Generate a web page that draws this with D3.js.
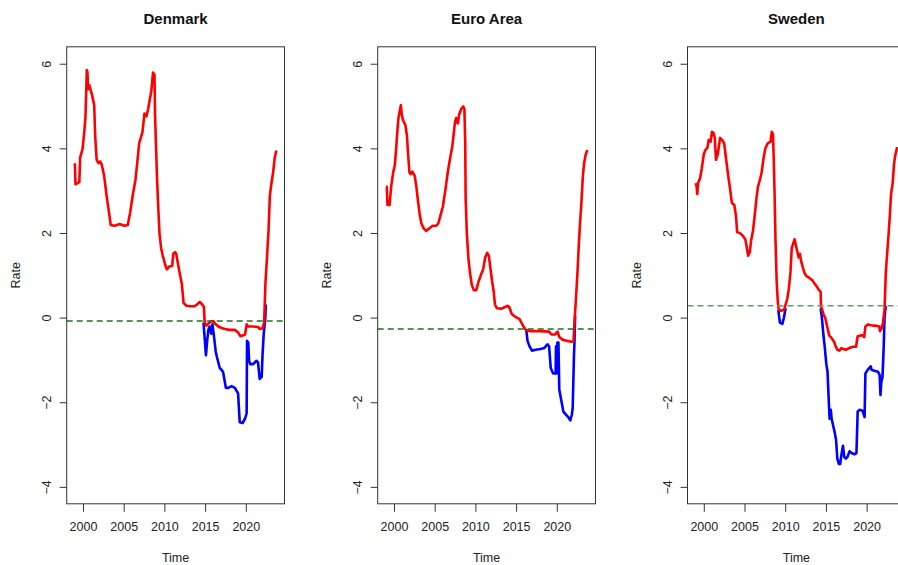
<!DOCTYPE html>
<html><head><meta charset="utf-8">
<script src="https://cdn.jsdelivr.net/npm/d3@7"></script>
<style>
html,body{margin:0;padding:0;background:#fff;}
svg{display:block;font-family:"Liberation Sans",Arial,Helvetica,sans-serif;}
</style></head>
<body><svg id="chart" width="898" height="565"></svg>
<script>
// ---------- data ----------
const panelTitles = ["Denmark", "Euro Area", "Sweden"];
const xTicks = [2000, 2005, 2010, 2015, 2020];
const yTicks = [-4, -2, 0, 2, 4, 6];
const thresholds = [-0.08, -0.27, 0.28];

const dkRate = [[1999.0,3.65],[1999.08,3.15],[1999.55,3.2],[1999.65,3.78],[1999.95,3.99],[2000.15,4.37],[2000.3,4.72],[2000.42,5.5],[2000.47,5.85],[2000.55,5.8],[2000.62,5.4],[2000.78,5.49],[2001.1,5.27],[2001.38,5.02],[2001.5,4.29],[2001.68,3.73],[2001.9,3.65],[2002.1,3.69],[2002.3,3.62],[2002.6,3.35],[2002.9,2.88],[2003.25,2.41],[2003.4,2.19],[2003.9,2.17],[2004.5,2.21],[2005.1,2.17],[2005.5,2.19],[2005.8,2.49],[2006.1,2.88],[2006.45,3.26],[2006.7,3.73],[2006.9,4.12],[2007.3,4.38],[2007.55,4.82],[2007.8,4.76],[2008.0,4.93],[2008.2,5.15],[2008.4,5.36],[2008.6,5.79],[2008.78,5.74],[2008.85,4.8],[2009.0,3.86],[2009.1,3.26],[2009.25,2.58],[2009.4,1.98],[2009.6,1.64],[2009.8,1.46],[2010.1,1.25],[2010.3,1.14],[2010.6,1.21],[2010.95,1.22],[2011.1,1.51],[2011.3,1.55],[2011.45,1.51],[2011.65,1.29],[2011.85,1.08],[2012.15,0.78],[2012.35,0.35],[2012.7,0.28],[2013.3,0.27],[2013.7,0.27],[2014.0,0.31],[2014.35,0.37],[2014.65,0.31],[2014.85,0.25],[2014.95,-0.12],[2015.15,-0.19],[2015.35,-0.15],[2015.65,-0.10],[2016.0,-0.08],[2016.3,-0.16],[2016.8,-0.23],[2017.4,-0.27],[2018.0,-0.29],[2018.65,-0.29],[2019.05,-0.35],[2019.35,-0.44],[2019.9,-0.40],[2020.1,-0.16],[2020.3,-0.21],[2020.9,-0.21],[2021.5,-0.22],[2021.7,-0.27],[2022.05,-0.25],[2022.25,-0.12],[2022.4,0.78],[2022.6,1.42],[2022.8,2.11],[2022.95,2.88],[2023.15,3.18],[2023.35,3.43],[2023.55,3.78],[2023.75,3.95]];
const dkShadow = [[2014.8,-0.12],[2015.0,-0.63],[2015.1,-0.89],[2015.25,-0.55],[2015.4,-0.29],[2015.55,-0.21],[2015.75,-0.38],[2015.9,-0.16],[2016.1,-0.46],[2016.3,-0.80],[2016.45,-0.93],[2016.8,-1.19],[2017.2,-1.28],[2017.55,-1.66],[2017.85,-1.66],[2018.25,-1.62],[2018.65,-1.66],[2019.05,-1.79],[2019.25,-2.47],[2019.6,-2.49],[2019.9,-2.39],[2020.1,-2.26],[2020.15,-0.55],[2020.3,-0.59],[2020.4,-1.02],[2020.55,-1.10],[2020.9,-1.10],[2021.3,-1.02],[2021.5,-1.06],[2021.7,-1.45],[2021.95,-1.40],[2022.05,-0.89],[2022.2,-0.38],[2022.4,0.01],[2022.45,0.31]];

const eaRate = [[1999.0,3.09],[1999.12,3.09],[1999.2,2.66],[1999.45,2.66],[1999.65,3.09],[1999.9,3.43],[2000.1,3.60],[2000.25,3.95],[2000.4,4.37],[2000.55,4.72],[2000.75,4.93],[2000.85,5.02],[2000.95,4.80],[2001.1,4.67],[2001.4,4.55],[2001.6,4.29],[2001.7,3.95],[2001.9,3.43],[2002.05,3.39],[2002.25,3.45],[2002.55,3.35],[2002.75,3.09],[2002.95,2.75],[2003.15,2.45],[2003.35,2.23],[2003.65,2.11],[2003.95,2.05],[2004.35,2.11],[2004.75,2.17],[2005.2,2.17],[2005.45,2.23],[2005.7,2.41],[2006.0,2.62],[2006.3,3.0],[2006.6,3.43],[2006.9,3.78],[2007.15,4.03],[2007.35,4.37],[2007.5,4.63],[2007.65,4.72],[2007.85,4.59],[2008.0,4.80],[2008.25,4.93],[2008.5,4.99],[2008.65,4.93],[2008.75,4.12],[2008.8,2.83],[2008.95,1.98],[2009.15,1.38],[2009.35,1.04],[2009.55,0.78],[2009.8,0.65],[2010.1,0.65],[2010.4,0.86],[2010.7,1.02],[2010.95,1.14],[2011.2,1.42],[2011.45,1.53],[2011.65,1.46],[2011.85,1.16],[2012.05,0.86],[2012.25,0.61],[2012.4,0.31],[2012.65,0.22],[2013.15,0.21],[2013.65,0.25],[2013.95,0.28],[2014.15,0.25],[2014.45,0.09],[2014.8,0.03],[2015.2,-0.01],[2015.4,-0.03],[2015.65,-0.12],[2015.9,-0.21],[2016.2,-0.29],[2016.8,-0.32],[2018.0,-0.32],[2019.05,-0.33],[2019.35,-0.40],[2019.75,-0.40],[2020.1,-0.33],[2020.3,-0.46],[2020.7,-0.52],[2021.3,-0.55],[2021.8,-0.57],[2022.05,-0.55],[2022.2,0.01],[2022.35,0.44],[2022.55,1.12],[2022.7,1.72],[2022.85,2.23],[2023.0,2.66],[2023.2,3.35],[2023.35,3.65],[2023.55,3.86],[2023.75,3.96]];
const eaShadow = [[2016.25,-0.29],[2016.4,-0.55],[2016.65,-0.68],[2016.95,-0.78],[2017.4,-0.76],[2018.0,-0.74],[2018.45,-0.72],[2018.85,-0.63],[2019.05,-0.68],[2019.25,-1.19],[2019.55,-1.32],[2019.85,-1.32],[2019.9,-0.68],[2019.97,-1.32],[2020.07,-0.59],[2020.2,-0.59],[2020.3,-1.70],[2020.55,-1.96],[2020.8,-2.22],[2021.15,-2.30],[2021.4,-2.35],[2021.65,-2.43],[2021.85,-2.29],[2021.95,-2.13],[2022.1,-0.93],[2022.18,-0.51],[2022.25,0.05]];

const seRate = [[1999.0,3.18],[1999.12,3.10],[1999.2,2.92],[1999.3,3.18],[1999.55,3.30],[1999.75,3.52],[2000.0,3.86],[2000.2,3.96],[2000.45,4.02],[2000.6,4.20],[2000.85,4.16],[2001.0,4.39],[2001.2,4.36],[2001.35,4.25],[2001.5,3.73],[2001.7,3.86],[2001.85,4.03],[2002.0,4.25],[2002.25,4.20],[2002.5,4.12],[2002.75,3.73],[2003.0,3.35],[2003.25,3.01],[2003.45,2.71],[2003.75,2.66],[2003.95,2.41],[2004.1,2.02],[2004.5,1.99],[2004.8,1.93],[2005.1,1.85],[2005.3,1.64],[2005.45,1.46],[2005.65,1.55],[2005.8,1.81],[2006.05,2.06],[2006.25,2.41],[2006.45,2.79],[2006.65,3.09],[2006.9,3.26],[2007.1,3.43],[2007.35,3.78],[2007.55,3.99],[2007.85,4.12],[2008.2,4.16],[2008.35,4.39],[2008.5,4.33],[2008.6,3.69],[2008.7,2.88],[2008.8,1.89],[2008.95,0.86],[2009.1,0.35],[2009.2,0.20],[2009.45,0.16],[2009.85,0.18],[2010.05,0.31],[2010.25,0.44],[2010.45,0.69],[2010.65,1.08],[2010.8,1.64],[2011.0,1.76],[2011.15,1.85],[2011.3,1.72],[2011.5,1.55],[2011.65,1.42],[2011.8,1.51],[2011.95,1.34],[2012.2,1.16],[2012.4,1.04],[2012.65,0.97],[2012.9,0.95],[2013.35,0.88],[2013.55,0.82],[2013.85,0.74],[2014.15,0.65],[2014.35,0.61],[2014.4,0.27],[2014.55,0.18],[2014.75,0.05],[2014.9,0.01],[2015.2,-0.25],[2015.4,-0.42],[2015.6,-0.46],[2015.8,-0.51],[2016.0,-0.57],[2016.2,-0.68],[2016.4,-0.76],[2016.65,-0.78],[2016.9,-0.72],[2017.15,-0.74],[2017.45,-0.76],[2017.85,-0.72],[2018.3,-0.69],[2018.7,-0.69],[2018.9,-0.44],[2019.25,-0.42],[2019.5,-0.42],[2019.7,-0.46],[2019.85,-0.21],[2020.15,-0.16],[2020.55,-0.18],[2020.95,-0.19],[2021.35,-0.20],[2021.55,-0.21],[2021.65,-0.32],[2021.85,-0.25],[2022.0,-0.12],[2022.2,0.18],[2022.35,1.04],[2022.5,1.46],[2022.7,1.98],[2022.85,2.41],[2023.0,2.92],[2023.2,3.18],[2023.35,3.60],[2023.5,3.82],[2023.75,4.03]];
const seShadowA = [[2009.15,0.18],[2009.35,-0.12],[2009.65,-0.15],[2009.85,0.01],[2010.05,0.22]];
const seShadowB = [[2014.35,0.22],[2014.5,0.01],[2014.7,-0.42],[2014.85,-0.68],[2015.05,-1.10],[2015.2,-1.28],[2015.3,-1.75],[2015.45,-2.39],[2015.6,-2.18],[2015.7,-2.39],[2015.9,-2.56],[2016.1,-2.73],[2016.25,-2.90],[2016.4,-3.33],[2016.6,-3.46],[2016.75,-3.46],[2016.9,-3.25],[2017.1,-3.03],[2017.25,-3.29],[2017.45,-3.33],[2017.65,-3.29],[2017.9,-3.16],[2018.15,-3.20],[2018.5,-3.23],[2018.75,-3.20],[2018.9,-2.22],[2019.15,-2.18],[2019.5,-2.20],[2019.75,-2.35],[2019.85,-1.32],[2020.15,-1.23],[2020.5,-1.15],[2020.6,-1.23],[2021.05,-1.26],[2021.4,-1.28],[2021.6,-1.36],[2021.7,-1.83],[2021.8,-1.53],[2021.95,-1.40],[2022.1,-0.68],[2022.2,0.01],[2022.35,0.27]];

const rateSeries = [dkRate, eaRate, seRate];
const shadowSeries = [[dkShadow], [eaShadow], [seShadowA, seShadowB]];
const dashColors = ["#1f6f1f", "#1f6f1f", "#5f9f5f"];

// ---------- layout ----------
const svg = d3.select("#chart");
const panelLeft = [66.7, 377.7, 687.5];
const plotW = 217.8, plotTop = 46.8, plotBottom = 503.8;
const FONT = '"Liberation Sans",Arial,Helvetica,sans-serif';

panelTitles.forEach((title, i) => {
  const L = panelLeft[i];
  const x = d3.scaleLinear().domain([1998.0, 2024.75]).range([L, L + plotW]);
  const y = d3.scaleLinear().domain([-4.4, 6.4]).range([plotBottom, plotTop]);
  const g = svg.append("g");
  const line = d3.line().x(d => x(d[0])).y(d => y(d[1]));

  // shadow (blue) first, then rate (red)
  shadowSeries[i].forEach(s => {
    g.append("path").datum(s).attr("d", line)
      .attr("fill", "none").attr("stroke", "#0000ff").attr("stroke-width", 2.6)
      .attr("stroke-linejoin", "round");
  });
  g.append("path").datum(rateSeries[i]).attr("d", line)
    .attr("fill", "none").attr("stroke", "#ff0000").attr("stroke-width", 2.6)
    .attr("stroke-linejoin", "round");

  // threshold dashed line
  g.append("line")
    .attr("x1", x.range()[0]).attr("x2", x.range()[1])
    .attr("y1", y(thresholds[i])).attr("y2", y(thresholds[i]))
    .attr("stroke", dashColors[i]).attr("stroke-width", 1.5)
    .attr("stroke-dasharray", "6,4");

  // box
  g.append("rect").attr("x", L).attr("y", plotTop)
    .attr("width", plotW).attr("height", plotBottom - plotTop)
    .attr("fill", "none").attr("stroke", "#333").attr("stroke-width", 1);

  // x axis
  const xa = g.append("g").attr("transform", `translate(0,${plotBottom})`)
    .call(d3.axisBottom(x).tickValues(xTicks).tickFormat(d3.format("d"))
      .tickSize(8).tickSizeOuter(0).tickPadding(10));
  xa.select(".domain").remove();
  xa.selectAll("line").attr("stroke", "#333");
  xa.selectAll("text").attr("font-size", 12.5).attr("fill", "#222").attr("font-family", FONT);

  // y axis
  const ya = g.append("g").attr("transform", `translate(${L},0)`)
    .call(d3.axisLeft(y).tickValues(yTicks).tickFormat(d3.format("d"))
      .tickSize(7).tickSizeOuter(0));
  ya.select(".domain").remove();
  ya.selectAll("line").attr("stroke", "#333");
  ya.selectAll("text")
    .attr("x", 0).attr("y", 0).attr("dy", "0.35em")
    .attr("text-anchor", "middle")
    .attr("transform", "translate(-20,0) rotate(-90)")
    .attr("font-size", 12.5).attr("fill", "#222").attr("font-family", FONT);

  // titles and axis labels
  const cx = L + plotW / 2;
  svg.append("text").attr("x", cx).attr("y", 24).attr("text-anchor", "middle")
    .attr("font-size", 15).attr("font-weight", "bold").attr("fill", "#111")
    .text(title);
  svg.append("text").attr("x", cx).attr("y", 561.5).attr("text-anchor", "middle")
    .attr("font-size", 12.5).attr("fill", "#222").text("Time");
  svg.append("text").attr("transform", `translate(${L - 51},${(plotTop + plotBottom) / 2}) rotate(-90)`)
    .attr("dy", "0.35em").attr("text-anchor", "middle")
    .attr("font-size", 12.5).attr("fill", "#222").text("Rate");
});
</script>
</body></html>
